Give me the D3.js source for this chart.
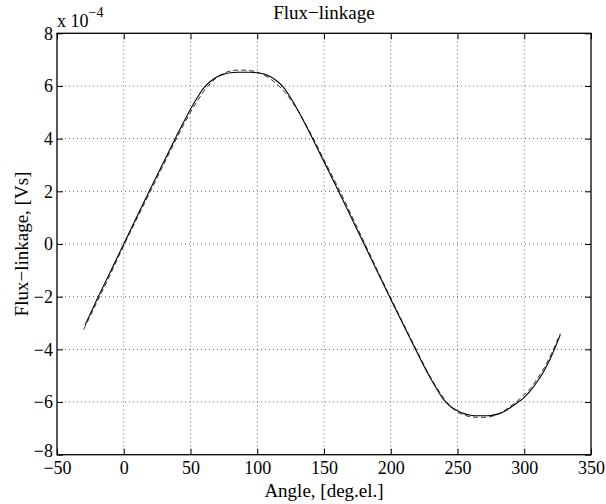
<!DOCTYPE html>
<html>
<head>
<meta charset="utf-8">
<script src="https://cdn.jsdelivr.net/npm/d3@7"></script>
<style>
  html, body { margin: 0; padding: 0; background: #fff; }
  svg text { font-family: "Liberation Serif", "Times New Roman", serif; fill: #000; }
</style>
</head>
<body>
<div id="chart"></div>
<script>
// ---- data (values in units of 1e-4 Vs) ----
const titleText = "Flux\u2212linkage";
const xLabelText = "Angle, [deg.el.]";
const yLabelText = "Flux\u2212linkage, [Vs]";
const xTicks = [-50, 0, 50, 100, 150, 200, 250, 300, 350];
const yTicks = [-8, -6, -4, -2, 0, 2, 4, 6, 8];

const solidAngle = [-29, -20, -10, 0, 10, 20, 30, 40, 50, 55, 60, 65, 70, 75, 80, 85, 90, 95, 100, 105, 110, 115, 120, 125, 130, 140, 150, 160, 170, 180, 190, 200, 210, 220, 230, 235, 240, 245, 250, 255, 260, 265, 270, 275, 280, 285, 290, 295, 300, 305, 310, 315, 320, 327];
const solidFlux = [-3.08, -2.1, -1.05, 0, 1.05, 2.1, 3.12, 4.15, 5.12, 5.55, 5.93, 6.18, 6.35, 6.45, 6.5, 6.52, 6.52, 6.52, 6.5, 6.45, 6.35, 6.18, 5.93, 5.55, 5.12, 4.15, 3.12, 2.1, 1.05, 0, -1.05, -2.1, -3.12, -4.15, -5.12, -5.55, -5.93, -6.18, -6.33, -6.44, -6.5, -6.52, -6.52, -6.51, -6.46, -6.36, -6.2, -6.02, -5.82, -5.55, -5.2, -4.8, -4.3, -3.45];

const dashAngle = [-30, -20, -10, 0, 10, 20, 30, 40, 50, 55, 60, 65, 70, 75, 80, 85, 90, 95, 100, 105, 110, 115, 120, 125, 130, 140, 150, 160, 170, 180, 190, 200, 210, 220, 230, 235, 240, 245, 250, 255, 260, 265, 270, 275, 280, 285, 290, 295, 300, 305, 310, 315, 320, 327];
const dashFlux = [-3.25, -2.2, -1.15, -0.06, 0.98, 2.0, 3.03, 4.05, 5.0, 5.42, 5.8, 6.1, 6.33, 6.48, 6.57, 6.6, 6.6, 6.58, 6.53, 6.42, 6.26, 6.06, 5.8, 5.48, 5.1, 4.2, 3.2, 2.2, 1.15, 0.08, -1.0, -2.05, -3.08, -4.1, -5.08, -5.5, -5.88, -6.18, -6.38, -6.5, -6.56, -6.58, -6.58, -6.55, -6.47, -6.33, -6.15, -5.95, -5.72, -5.45, -5.1, -4.7, -4.2, -3.4];

// ---- layout ----
const W = 606, H = 504;
const m = { left: 57, right: 591, top: 33.3, bottom: 454.7 };

const svg = d3.select("#chart").append("svg")
  .attr("width", W).attr("height", H)
  .style("display", "block");

const x = d3.scaleLinear().domain([-50, 350]).range([m.left, m.right]);
const y = d3.scaleLinear().domain([-8, 8]).range([m.bottom, m.top]);

const fmt = d => (d < 0 ? "\u2212" + Math.abs(d) : String(d));

// grid
const grid = svg.append("g");
grid.selectAll("line.gx").data(xTicks.slice(1, -1)).enter().append("line")
  .attr("x1", d => x(d)).attr("x2", d => x(d))
  .attr("y1", m.top).attr("y2", m.bottom)
  .attr("stroke", "#000").attr("stroke-width", 0.6)
  .attr("stroke-dasharray", "1,3");
grid.selectAll("line.gy").data(yTicks.slice(1, -1)).enter().append("line")
  .attr("y1", d => y(d)).attr("y2", d => y(d))
  .attr("x1", m.left).attr("x2", m.right)
  .attr("stroke", "#000").attr("stroke-width", 0.6)
  .attr("stroke-dasharray", "1,3");

// curves
const line = d3.line().curve(d3.curveMonotoneX);
svg.append("path")
  .attr("d", line(dashAngle.map((a, i) => [x(a), y(dashFlux[i])])))
  .attr("fill", "none").attr("stroke", "#000").attr("stroke-width", 0.8)
  .attr("stroke-dasharray", "5,3");
svg.append("path")
  .attr("d", line(solidAngle.map((a, i) => [x(a), y(solidFlux[i])])))
  .attr("fill", "none").attr("stroke", "#000").attr("stroke-width", 1.1);

// axes (ticks inside, box)
const tl = 6;
const axB = d3.axisBottom(x).tickValues(xTicks).tickSize(-tl).tickPadding(7).tickFormat(fmt);
const axT = d3.axisTop(x).tickValues(xTicks).tickSize(-tl).tickFormat("");
const axL = d3.axisLeft(y).tickValues(yTicks).tickSize(-tl).tickPadding(4).tickFormat(fmt);
const axR = d3.axisRight(y).tickValues(yTicks).tickSize(-tl).tickFormat("");

function styleAxis(g) {
  g.select(".domain").remove();
  g.selectAll(".tick line").attr("stroke", "#000").attr("stroke-width", 1);
  g.selectAll("text").style("font-family", "'Liberation Serif', 'Times New Roman', serif")
    .style("font-size", "18px").attr("fill", "#000");
}
svg.append("g").attr("transform", `translate(0,${m.bottom})`).call(axB).call(styleAxis);
svg.append("g").attr("transform", `translate(0,${m.top})`).call(axT).call(styleAxis);
const gL = svg.append("g").attr("transform", `translate(${m.left},0)`).call(axL).call(styleAxis);
gL.selectAll(".tick text").filter(d => d === -8).attr("dy", "0.1em");
svg.append("g").attr("transform", `translate(${m.right},0)`).call(axR).call(styleAxis);

svg.append("rect")
  .attr("x", m.left).attr("y", m.top)
  .attr("width", m.right - m.left).attr("height", m.bottom - m.top)
  .attr("fill", "none").attr("stroke", "#000").attr("stroke-width", 1.3);

// exponent label
const ex = svg.append("text").attr("x", m.left).attr("y", 27).style("font-size", "18px");
ex.append("tspan").text("x 10");
ex.append("tspan").attr("dy", -10).style("font-size", "14px").text("\u22124");

// title
svg.append("text").attr("x", (m.left + m.right) / 2).attr("y", 19)
  .attr("text-anchor", "middle").style("font-size", "19px").text(titleText);

// x label
svg.append("text").attr("x", (m.left + m.right) / 2).attr("y", 497)
  .attr("text-anchor", "middle").style("font-size", "19px").text(xLabelText);

// y label
svg.append("text")
  .attr("transform", `translate(28,${(m.top + m.bottom) / 2}) rotate(-90)`)
  .attr("text-anchor", "middle").style("font-size", "19px").text(yLabelText);
</script>
</body>
</html>
